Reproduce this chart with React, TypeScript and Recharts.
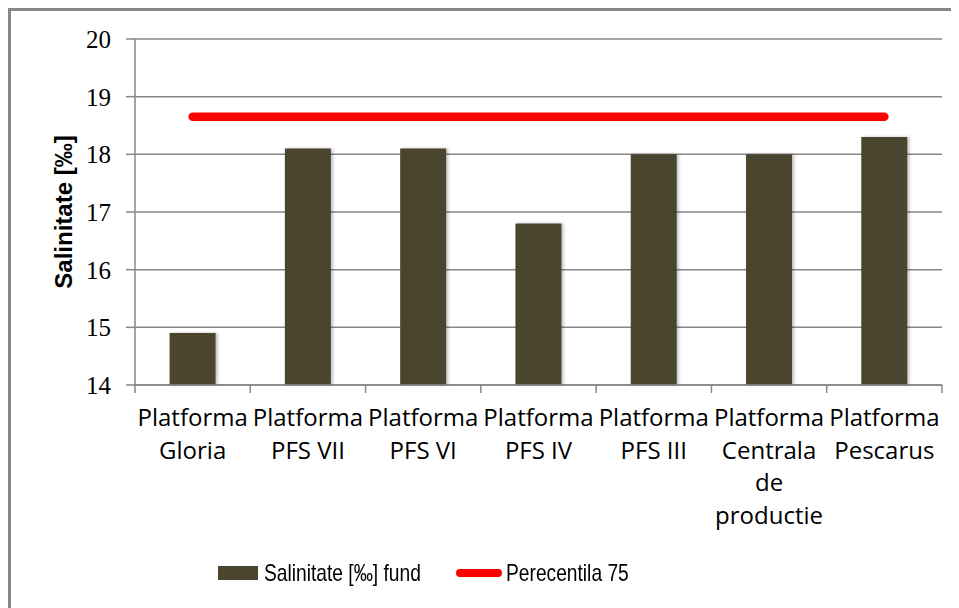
import React from 'react';
import { ComposedChart, Bar, Line, XAxis, YAxis, CartesianGrid, Legend, Label } from 'recharts';

// category labels, one entry per line of the axis label
const categories = [
  'Platforma\nGloria',
  'Platforma\nPFS VII',
  'Platforma\nPFS VI',
  'Platforma\nPFS IV',
  'Platforma\nPFS III',
  'Platforma\nCentrala\nde\nproductie',
  'Platforma\nPescarus',
];
const salinitateFund = [14.9, 18.1, 18.1, 16.8, 18.0, 18.0, 18.3];
const percentila75 = [18.65, 18.65, 18.65, 18.65, 18.65, 18.65, 18.65];
const yTicks = [14, 15, 16, 17, 18, 19, 20];

const data = categories.map((c, i) => ({
  name: c,
  fund: salinitateFund[i],
  p75: percentila75[i],
}));

const GRID = '#878787';
const BAR = '#4A452E';
const SANS = '"Open Sans", "Noto Sans", sans-serif';
const LEGEND_FONT = '"Liberation Sans", Arial, sans-serif';

function CategoryTick(props: any) {
  const { x, y, payload, index } = props;
  const half = payload?.offset ?? 57.6;
  const lines = String(payload.value).split('\n');
  return (
    <g>
      <line x1={x - half} y1={y} x2={x - half} y2={y + 8} stroke={GRID} strokeWidth={1.5} />
      {index === categories.length - 1 && (
        <line x1={x + half} y1={y} x2={x + half} y2={y + 8} stroke={GRID} strokeWidth={1.5} />
      )}
      <text x={x} y={y + 41} textAnchor="middle" fontFamily={SANS} fontSize={24} fill="#000">
        {lines.map((l, i) => (
          <tspan key={i} x={x} dy={i === 0 ? 0 : 32.5}>
            {l}
          </tspan>
        ))}
      </text>
    </g>
  );
}

// condensed-looking legend text: regular face squeezed horizontally
const squeezed: React.CSSProperties = {
  position: 'absolute',
  top: 0,
  lineHeight: '24px',
  transform: 'scaleX(0.8)',
  transformOrigin: 'left center',
};

function LegendBox() {
  return (
    <div style={{ position: 'relative', width: 420, height: 24, fontFamily: LEGEND_FONT, fontSize: 24, color: '#000', whiteSpace: 'nowrap' }}>
      <span style={{ position: 'absolute', left: 0, top: 5, width: 40, height: 14, background: BAR }} />
      <span style={{ ...squeezed, left: 46 }}>Salinitate [‰] fund</span>
      <span style={{ position: 'absolute', left: 238, top: 8, width: 46, height: 8, background: '#FF0000', borderRadius: 4 }} />
      <span style={{ ...squeezed, left: 288 }}>Perecentila 75</span>
    </div>
  );
}

export default function App() {
  return (
    <div style={{ width: 948, height: 597, borderLeft: `3px solid ${GRID}`, borderTop: `3px solid ${GRID}` }}>
      <svg width={0} height={0} style={{ position: 'absolute' }}>
        <defs>
          <filter id="barShadow" x="-20%" y="-5%" width="140%" height="110%">
            <feDropShadow dx={2} dy={0} stdDeviation={1.5} floodColor="#000" floodOpacity={0.25} />
          </filter>
        </defs>
      </svg>
      <ComposedChart
        width={940}
        height={589}
        data={data}
        margin={{ top: 28, right: 9, left: 24, bottom: 75 }}
        barCategoryGap="30%"
      >
        <CartesianGrid vertical={false} stroke={GRID} strokeWidth={1.5} />
        <XAxis
          dataKey="name"
          height={140}
          tickLine={false}
          tickSize={0}
          tickMargin={0}
          interval={0}
          axisLine={{ stroke: GRID, strokeWidth: 1.5 }}
          tick={<CategoryTick />}
        />
        <YAxis
          width={100}
          domain={[14, 20]}
          ticks={yTicks}
          interval={0}
          tickSize={9}
          tickMargin={15}
          tickLine={{ stroke: GRID, strokeWidth: 1.5 }}
          axisLine={{ stroke: GRID, strokeWidth: 1.5 }}
          tick={{ fontFamily: '"Liberation Serif", serif', fontSize: 25, fill: '#000' }}
        >
          <Label
            content={({ viewBox }: any) => {
              const cx = viewBox.x + 28;
              const cy = viewBox.y + viewBox.height / 2;
              return (
                <text
                  x={cx}
                  y={cy}
                  transform={`rotate(-90 ${cx} ${cy})`}
                  textAnchor="middle"
                  dominantBaseline="central"
                  fontFamily='"Liberation Sans", Arial, sans-serif'
                  fontWeight="bold"
                  fontSize={24}
                  fill="#000"
                >
                  Salinitate [‰]
                </text>
              );
            }}
          />
        </YAxis>
        <Bar dataKey="fund" name="Salinitate [‰] fund" fill={BAR} style={{ filter: 'url(#barShadow)' }} isAnimationActive={false} />
        <Line
          dataKey="p75"
          name="Perecentila 75"
          stroke="#FF0000"
          strokeWidth={8.5}
          strokeLinecap="round"
          dot={false}
          activeDot={false}
          isAnimationActive={false}
        />
        <Legend
          layout="horizontal"
          verticalAlign="middle"
          align="center"
          wrapperStyle={{ left: 207, top: 550, width: 'auto' }}
          content={<LegendBox />}
        />
      </ComposedChart>
    </div>
  );
}
